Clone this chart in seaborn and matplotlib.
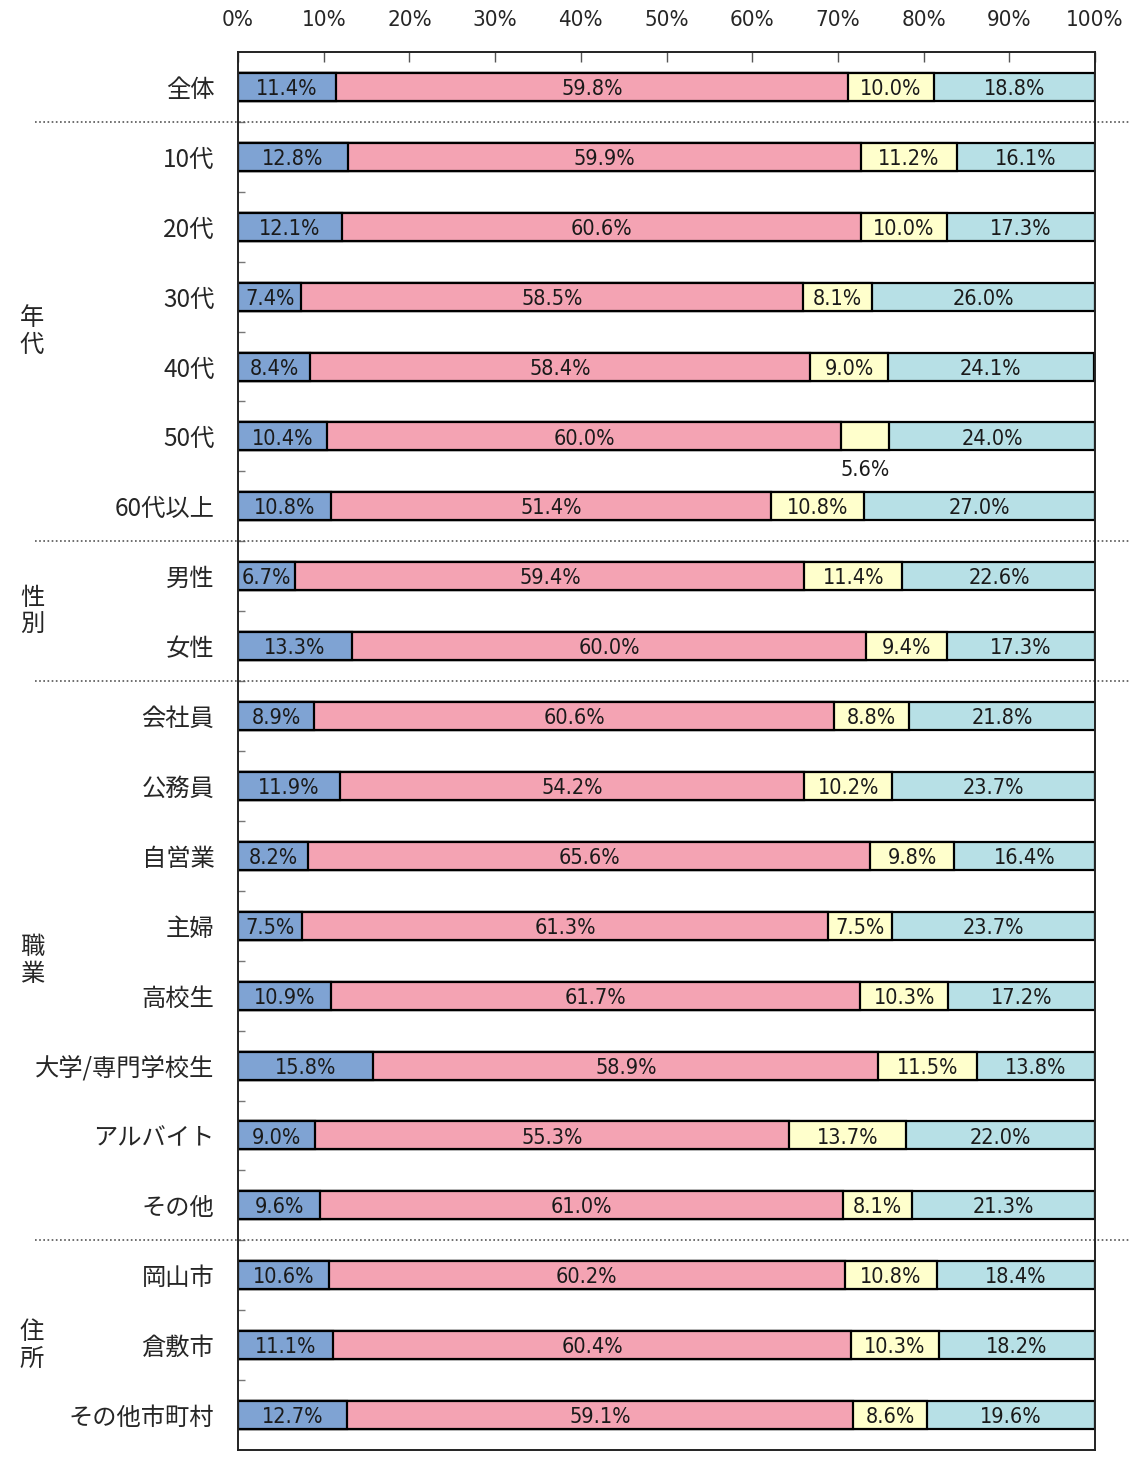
import numpy as np
import pandas as pd
import matplotlib
matplotlib.use("Agg")
import matplotlib.pyplot as plt
import matplotlib.transforms as mtransforms
import seaborn as sns

categories = ["全体", "10代", "20代", "30代", "40代", "50代", "60代以上",
              "男性", "女性",
              "会社員", "公務員", "自営業", "主婦", "高校生", "大学/専門学校生", "アルバイト", "その他",
              "岡山市", "倉敷市", "その他市町村"]
blue = [11.4, 12.8, 12.1, 7.4, 8.4, 10.4, 10.8, 6.7, 13.3, 8.9, 11.9, 8.2, 7.5, 10.9, 15.8, 9.0, 9.6, 10.6, 11.1, 12.7]
pink = [59.8, 59.9, 60.6, 58.5, 58.4, 60.0, 51.4, 59.4, 60.0, 60.6, 54.2, 65.6, 61.3, 61.7, 58.9, 55.3, 61.0, 60.2, 60.4, 59.1]
yellow = [10.0, 11.2, 10.0, 8.1, 9.0, 5.6, 10.8, 11.4, 9.4, 8.8, 10.2, 9.8, 7.5, 10.3, 11.5, 13.7, 8.1, 10.8, 10.3, 8.6]
cyan = [18.8, 16.1, 17.3, 26.0, 24.1, 24.0, 27.0, 22.6, 17.3, 21.8, 23.7, 16.4, 23.7, 17.2, 13.8, 22.0, 21.3, 18.4, 18.2, 19.6]
x_ticks = [0, 10, 20, 30, 40, 50, 60, 70, 80, 90, 100]
groups = [("年\n代", 3.5), ("性\n別", 7.5), ("職\n業", 12.5), ("住\n所", 18.0)]
separators = [0.5, 6.5, 8.5, 16.5]

series = [blue, pink, yellow, cyan]
colors = ["#7fa3d3", "#f4a3b3", "#ffffcc", "#b7e0e6"]

JP = ["Noto Sans CJK JP", "DejaVu Sans"]

sns.set_theme(style="white")
plt.rcParams["font.family"] = JP

df = pd.DataFrame({"cat": categories})
vals = np.array(series)
cums = np.cumsum(vals, axis=0)
for i in range(4):
    df[f"c{i}"] = cums[i]

fig = plt.figure(figsize=(11.29, 14.6), dpi=100)
ax = fig.add_axes([238 / 1129, 1 - 1450 / 1460, (1095 - 238) / 1129, (1450 - 52) / 1460])

# stacked bars drawn as cumulative totals, longest first
for i in range(3, -1, -1):
    sns.barplot(data=df, x=f"c{i}", y="cat", orient="h", color=colors[i],
                saturation=1, width=0.4, edgecolor="black", linewidth=1.6,
                errorbar=None, ax=ax)

ax.set_xlim(0, 100)
ax.set_ylim(len(categories) - 0.5, -0.5)
ax.set_xlabel("")
ax.set_ylabel("")

num_font = dict(family="DejaVu Sans", stretch="condensed")

# value labels
for r in range(len(categories)):
    start = 0.0
    for i in range(4):
        v = vals[i, r]
        mid = start + v / 2
        y = r + 0.03
        if v < 7 and i == 2:
            y = r + 0.48
        ax.text(mid, y, f"{v:.1f}%", ha="center", va="center",
                fontsize=15.5, color="#1a1a1a", **num_font)
        start += v

# axes frame and ticks
ax.xaxis.tick_top()
ax.set_xticks(x_ticks)
ax.set_xticklabels([f"{t}%" for t in x_ticks], fontsize=16, **num_font)
ax.tick_params(axis="x", which="major", direction="in", length=7, width=1,
               pad=16, top=True, bottom=False, color="#555555")
ax.set_yticks(range(len(categories)))
ax.set_yticklabels(categories, fontsize=17.5)
ax.tick_params(axis="y", which="major", length=0, pad=17)
ax.set_yticks(np.arange(0.5, len(categories) - 0.5, 1.0), minor=True)
ax.tick_params(axis="y", which="minor", direction="in", length=5, width=1,
               left=True, color="#777777")
for s in ax.spines.values():
    s.set_color("#222222")
    s.set_linewidth(1.4)

# dotted group separators across the full width
trans = mtransforms.blended_transform_factory(fig.transFigure, ax.transData)
for yv in separators:
    ax.plot([35 / 1129, 1.0], [yv, yv], transform=trans, clip_on=False,
            color="#555555", linestyle=(0, (1, 1.5)), linewidth=1.2)

# group labels
for label, yv in groups:
    ax.text(32 / 1129, yv, label, transform=trans, ha="center", va="center",
            fontsize=17.5, linespacing=1.05)

fig.savefig("out.png", dpi=100, facecolor="white")
